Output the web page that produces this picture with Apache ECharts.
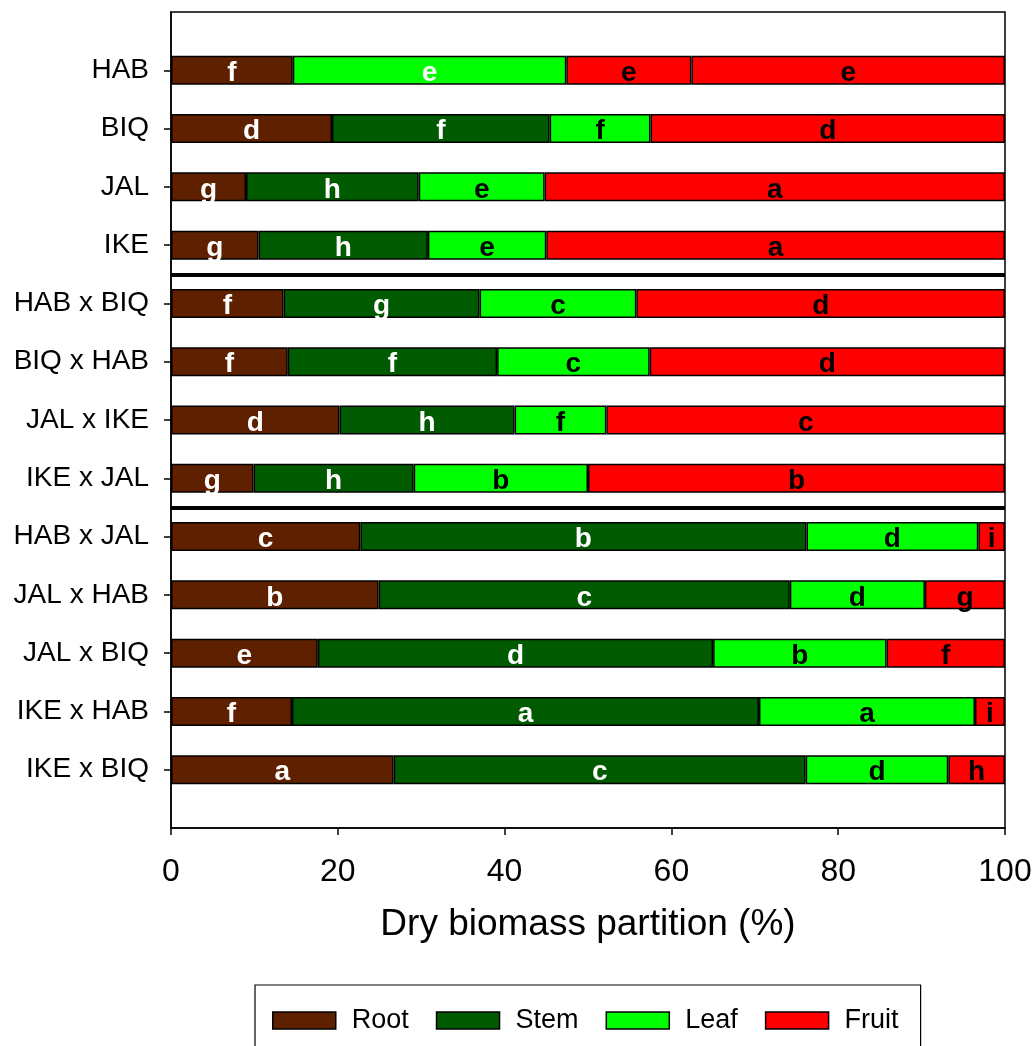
<!DOCTYPE html>
<html>
<head>
<meta charset="utf-8">
<script src="https://cdn.jsdelivr.net/npm/echarts@6/dist/echarts.min.js"></script>
<style>
html,body{margin:0;padding:0;background:#fff;}
#chart{width:1036px;height:1046px;}
</style>
</head>
<body>
<div id="chart"></div>
<script>
const categories = ['HAB','BIQ','JAL','IKE','HAB x BIQ','BIQ x HAB','JAL x IKE','IKE x JAL','HAB x JAL','JAL x HAB','JAL x BIQ','IKE x HAB','IKE x BIQ'];
const rootValues  = [14.6,19.3, 9.0,10.5,13.5,14.0,20.2, 9.9,22.7,24.9,17.6,14.5,26.7];
const stemValues  = [32.8,26.1,20.7,20.3,23.5,25.1,21.0,19.2,53.5,49.3,47.4,56.0,49.4];
const leafValues  = [15.0,12.1,15.1,14.2,18.8,18.3,11.0,20.9,20.6,16.2,20.8,25.9,17.1];
const fruitValues = [37.6,42.5,55.2,55.0,44.2,42.6,47.8,50.0, 3.2, 9.6,14.2, 3.6, 6.8];
const rootLetters  = ['f','d','g','g','f','f','d','g','c','b','e','f','a'];
const stemLetters  = ['e','f','h','h','g','f','h','h','b','c','d','a','c'];
const leafLetters  = ['e','f','e','e','c','c','f','b','d','d','b','a','d'];
const fruitLetters = ['e','d','a','a','d','d','c','b','i','g','f','i','h'];
const seriesNames = ['Root','Stem','Leaf','Fruit'];
const xTicks = [0,20,40,60,80,100];
// group separators lie between rows (row index counted from 1 on the padded axis)
const separatorPositions = [4.5, 8.5];

const FONT = 'Arial, "Liberation Sans", sans-serif';
const colors = {Root:'#5f2000', Stem:'#005a00', Leaf:'#00ff00', Fruit:'#ff0000'};
const labelColors = {Root:'#ffffff', Stem:'#ffffff', Leaf:'#000000', Fruit:'#000000'};
// HAB row is drawn with shifted colours in the original figure
const colorOverrides = {Stem:{0:'#00ff00'}, Leaf:{0:'#ff0000'}};

const axisCats = [''].concat(categories, ['']);
function pad(arr, name, letters){
  const out = [null];
  arr.forEach((v,i)=>{
    const item = {value:v, letter:letters[i]};
    const ov = colorOverrides[name] && colorOverrides[name][i];
    if (ov) item.itemStyle = {color: ov};
    out.push(item);
  });
  out.push(null);
  return out;
}
const valueSets = [[rootValues,rootLetters],[stemValues,stemLetters],[leafValues,leafLetters],[fruitValues,fruitLetters]];

const series = seriesNames.map((name, k)=>({
  name: name,
  type: 'bar',
  stack: 'total',
  barWidth: 29,
  xAxisIndex: 0,
  yAxisIndex: 0,
  itemStyle: {color: colors[name], borderColor:'#000', borderWidth:1.5},
  label: {
    show: true,
    position: 'inside',
    offset: [0, 3],
    formatter: p => p.data && p.data.letter ? p.data.letter : '',
    color: labelColors[name],
    fontFamily: FONT,
    fontWeight: 'bold',
    fontSize: 28
  },
  emphasis: {disabled: true},
  data: pad(valueSets[k][0], name, valueSets[k][1])
}));

series.push({
  name: 'sep',
  type: 'scatter',
  xAxisIndex: 0,
  yAxisIndex: 1,
  data: [],
  silent: true,
  markLine: {
    silent: true,
    symbol: ['none','none'],
    label: {show:false},
    lineStyle: {color:'#000', width:4, type:'solid'},
    data: separatorPositions.map(v=>({yAxis:v}))
  }
});

const option = {
  animation: false,
  backgroundColor: '#fff',
  grid: {left:171, right:31, top:12, bottom:218, show:true, borderColor:'#000', borderWidth:1.5, backgroundColor:'transparent'},
  xAxis: {
    type: 'value', min: xTicks[0], max: xTicks[xTicks.length-1], interval: 20,
    position: 'bottom',
    axisLine: {show:true, onZero:false, lineStyle:{color:'#000', width:1.5}},
    axisTick: {show:true, length:7, lineStyle:{color:'#000', width:1.5}},
    splitLine: {show:false},
    axisLabel: {color:'#000', fontFamily:FONT, fontSize:32, margin:28},
    name: 'Dry biomass partition (%)',
    nameLocation: 'middle',
    nameGap: 78,
    nameTextStyle: {color:'#000', fontFamily:FONT, fontSize:37}
  },
  yAxis: [{
    type: 'category',
    data: axisCats,
    inverse: true,
    boundaryGap: false,
    axisLine: {show:true, onZero:false, lineStyle:{color:'#000', width:1.5}},
    axisTick: {show:true, length:7, interval: (i)=> i>0 && i<axisCats.length-1, lineStyle:{color:'#000', width:1.5}},
    axisLabel: {color:'#000', fontFamily:FONT, fontSize:28, margin:22, interval:0, padding:[5,0,0,0]},
    splitLine: {show:false}
  },{
    type: 'value', min: 0, max: axisCats.length-1, inverse: true, show: false,
    axisLine: {show:false, onZero:false}, axisTick: {show:false}, axisLabel: {show:false}, splitLine: {show:false}
  }],
  legend: {
    data: seriesNames,
    orient: 'horizontal',
    left: 255, top: 985,
    padding: [22, 22, 22, 17],
    itemGap: 27,
    itemWidth: 63,
    itemHeight: 17,
    borderColor: '#000',
    borderWidth: 1.2,
    icon: 'rect',
    itemStyle: {borderColor:'#000', borderWidth:1.5},
    textStyle: {color:'#000', fontFamily:FONT, fontSize:27, padding:[0,0,0,11]},
    selectedMode: false
  },
  series: series
};
const chart = echarts.init(document.getElementById('chart'), null, {renderer:'canvas'});
chart.setOption(option);
</script>
</body>
</html>
